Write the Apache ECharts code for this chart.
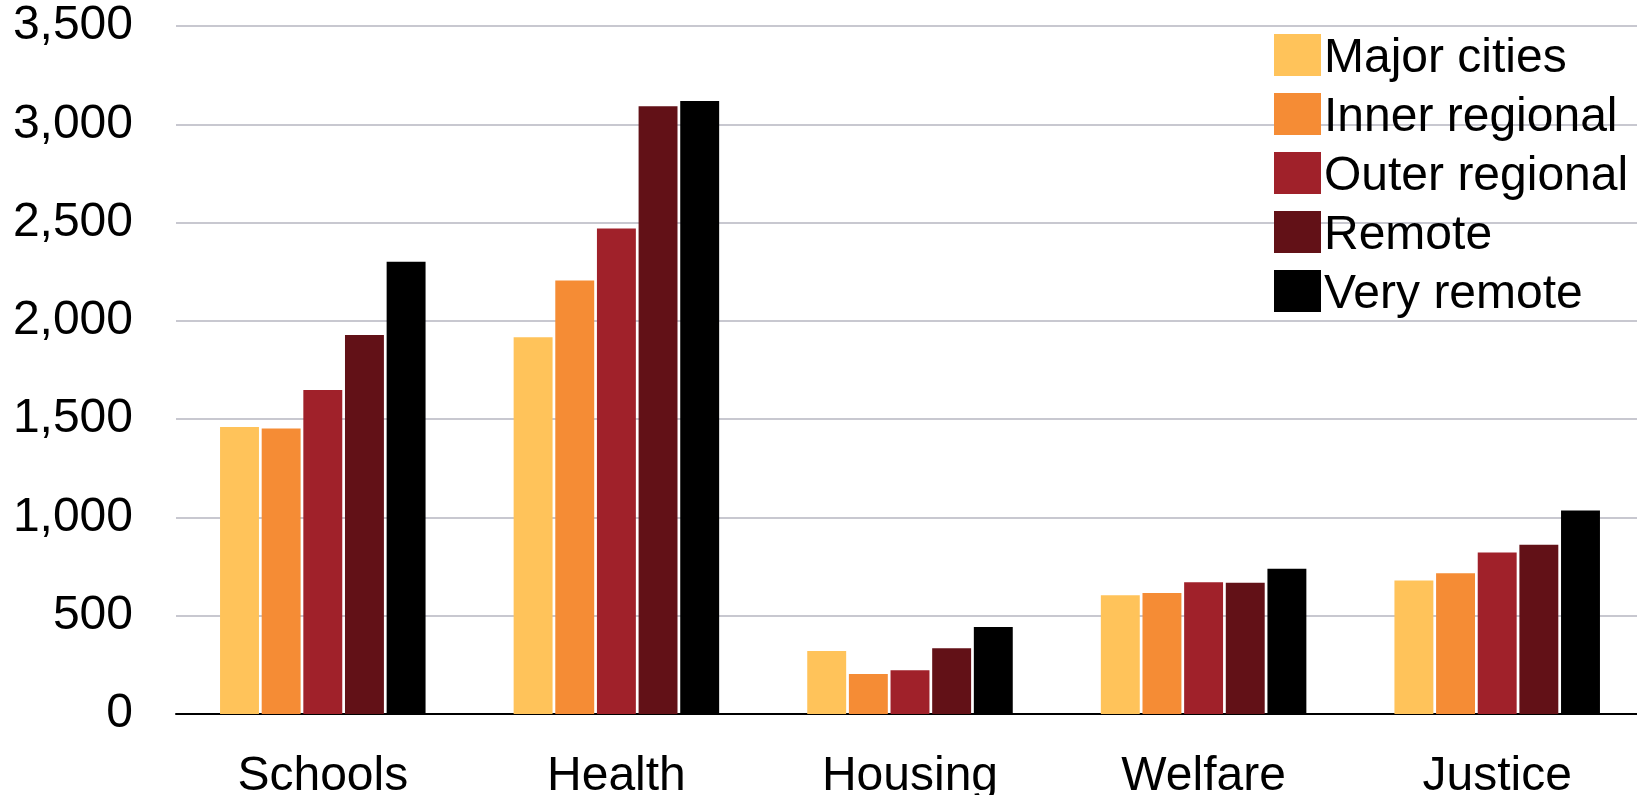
<!DOCTYPE html>
<html>
<head>
<meta charset="utf-8">
<style>
  html, body { margin: 0; padding: 0; background: #ffffff; }
  #chart { width: 1637px; height: 795px; }
</style>
<script src="https://cdn.jsdelivr.net/npm/echarts@6/dist/echarts.min.js"></script>
</head>
<body>
<div id="chart"></div>
<script>
// Spending per person by service area and remoteness
const categories = ['Schools', 'Health', 'Housing', 'Welfare', 'Justice'];
const seriesNames = ['Major cities', 'Inner regional', 'Outer regional', 'Remote', 'Very remote'];
const seriesColors = ['#FFC35A', '#F58C35', '#A0212A', '#621117', '#000000'];

const majorCities   = [1460, 1916, 320, 604, 679];
const innerRegional = [1452, 2205, 203, 616, 716];
const outerRegional = [1648, 2470, 222, 670, 821];
const remote        = [1928, 3092, 335, 668, 861];
const veryRemote    = [2301, 3118, 442, 739, 1035];

const seriesValues = [majorCities, innerRegional, outerRegional, remote, veryRemote];

const fontFamily = '"Liberation Sans", Arial, sans-serif';

const chart = echarts.init(document.getElementById('chart'), null, { renderer: 'canvas' });

chart.setOption({
  animation: false,
  backgroundColor: '#ffffff',
  textStyle: { fontFamily: fontFamily },
  grid: {
    left: 176, right: -7, top: 26, bottom: 81,
    containLabel: false,
    outerBoundsMode: 'none'
  },
  legend: {
    orient: 'vertical',
    left: 1274,
    top: 27,
    itemWidth: 47,
    itemHeight: 42,
    itemGap: 3,
    icon: 'rect',
    padding: 0,
    formatter: name => '{t|' + name + '}',
    textStyle: {
      fontSize: 48,
      color: '#000000',
      fontFamily: fontFamily,
      rich: {
        // legend labels sit slightly below the centre of their swatches
        t: { fontSize: 48, color: '#000000', fontFamily: fontFamily, lineHeight: 34, padding: [8, 0, 0, -2] }
      }
    },
    data: seriesNames
  },
  xAxis: {
    type: 'category',
    data: categories,
    axisLine: { show: true, lineStyle: { color: '#000000', width: 2 } },
    axisTick: { show: false },
    axisLabel: { fontSize: 48, color: '#000000', margin: 39, fontFamily: fontFamily }
  },
  yAxis: {
    type: 'value',
    min: 0,
    max: 3500,
    interval: 500,
    axisLine: { show: false },
    axisTick: { show: false },
    splitLine: { lineStyle: { color: '#c8c8d0', width: 2 } },
    axisLabel: {
      fontSize: 48,
      color: '#000000',
      margin: 43,
      fontFamily: fontFamily,
      formatter: v => v.toLocaleString('en-US')
    }
  },
  series: seriesNames.map((name, i) => ({
    name: name,
    type: 'bar',
    data: seriesValues[i],
    barGap: '7%',
    barCategoryGap: '30%',
    itemStyle: { color: seriesColors[i] }
  }))
});
</script>
</body>
</html>
